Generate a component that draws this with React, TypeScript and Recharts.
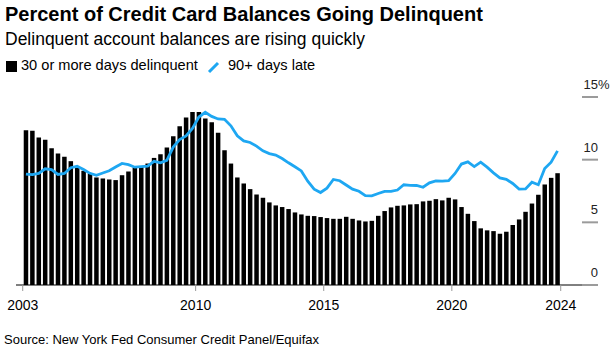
import React from 'react';
import { ComposedChart, Bar, Line, XAxis, YAxis } from 'recharts';

// quarterly series, 2003 Q2 .. 2024 Q1
const firstYear = 2003;
const firstQuarter = 2;

// share of balances going 30+ days delinquent (%)
const thirtyPlus = [
  12.35, 12.3, 11.77, 11.58, 10.92, 10.49, 10.23, 9.88, 9.43, 9.11,
  8.9, 8.58, 8.5, 8.42, 8.37, 8.76, 9.06, 9.38, 9.48, 9.69,
  10.14, 10.44, 10.97, 11.87, 12.67, 13.36, 13.81, 13.81, 13.28, 12.99,
  12.14, 10.76, 9.69, 8.58, 8.1, 7.65, 7.22, 6.96, 6.59, 6.35,
  6.22, 6.06, 5.79, 5.63, 5.52, 5.5, 5.42, 5.34, 5.28, 5.28,
  5.44, 5.28, 5.15, 5.07, 5.12, 5.52, 5.9, 6.19, 6.32, 6.35,
  6.43, 6.45, 6.67, 6.72, 6.85, 6.75, 6.96, 6.83, 6.22, 5.68,
  5.1, 4.52, 4.36, 4.3, 4.09, 4.25, 4.78, 5.23, 5.84, 6.5,
  7.2, 8.02, 8.55, 8.92,
];

// share of balances 90+ days late (%)
const ninetyPlus = [
  8.85, 8.8, 8.9, 9.27, 9.2, 8.82, 8.9, 9.36, 9.47, 9.22,
  8.91, 8.75, 8.94, 9.11, 9.42, 9.7, 9.6, 9.4, 9.44, 9.48,
  9.87, 9.75, 9.94, 11.0, 11.6, 11.9, 12.5, 13.4, 13.78, 13.45,
  13.25, 13.22, 12.7, 11.9, 11.5, 11.37, 11.08, 10.7, 10.48, 10.37,
  10.09, 9.75, 9.43, 9.1, 8.28, 7.65, 7.38, 7.73, 8.42, 8.32,
  7.98, 7.65, 7.48, 7.13, 7.11, 7.3, 7.47, 7.47, 7.58, 8.0,
  7.95, 7.94, 7.8, 8.15, 8.31, 8.29, 8.33, 8.9, 9.65, 9.82,
  9.45, 9.8, 9.4, 8.95, 8.55, 8.43, 8.1, 7.65, 7.67, 8.2,
  8.0, 9.3, 9.8, 10.7,
];

const yearTicks = [2003, 2010, 2015, 2020, 2024];
const valueTicks = [0, 5, 10, 15];

const BLUE = '#1ea7f2';
const FONT = '"Liberation Sans", Arial, Helvetica, sans-serif';

const quarters = thirtyPlus.map((_, i) => {
  const q = firstQuarter - 1 + i;
  return `${firstYear + Math.floor(q / 4)} Q${(q % 4) + 1}`;
});

// x = quarters since the first bar, bar centred in its slot
const data = quarters.map((label, i) => ({
  label,
  x: i + 0.5,
  d30: thirtyPlus[i],
  d90: ninetyPlus[i],
}));

const n = data.length;
const start = firstYear + (firstQuarter - 1) / 4;
// end labels sit on the edges of the data, the others on year starts
const xTickPos = yearTicks.map((y, k) =>
  k === 0 ? 0 : k === yearTicks.length - 1 ? n : (y - start) * 4
);

const ValueTick = ({ x, y, payload }: any) => (
  <g>
    <line x1={x - 16} x2={x} y1={y} y2={y} stroke="#9b9b9b" strokeWidth={2} />
    <text x={x} y={y - 8} textAnchor="end" fontSize={13} fill="#222" fontFamily={FONT}>
      {payload.value}
    </text>
    {payload.value === valueTicks[valueTicks.length - 1] && (
      <text x={x} y={y - 8} textAnchor="start" fontSize={13} fill="#222" fontFamily={FONT}>
        %
      </text>
    )}
  </g>
);

export default function App() {
  return (
    <div
      style={{
        position: 'absolute',
        left: 0,
        top: 0,
        width: 615,
        height: 351,
        background: '#fff',
        fontFamily: FONT,
        color: '#000',
        overflow: 'hidden',
      }}
    >
      <ComposedChart
        width={615}
        height={351}
        data={data}
        margin={{ top: 97, right: 16, bottom: 36, left: 16 }}
        style={{ position: 'absolute', left: 0, top: 0 }}
      >
        <XAxis
          type="number"
          dataKey="x"
          domain={[-1.05, 89.82]}
          ticks={xTickPos}
          interval={0}
          allowDataOverflow
          tickFormatter={(_v: number, idx: number) => String(yearTicks[idx])}
          axisLine={{ stroke: '#000', strokeWidth: 1 }}
          tickLine={{ stroke: '#999' }}
          tickSize={6}
          tickMargin={9}
          tick={{ fontSize: 14, fill: '#000', fontFamily: FONT }}
          height={30}
        />
        <YAxis
          orientation="right"
          domain={[0, 15]}
          ticks={valueTicks}
          width={1}
          axisLine={false}
          tickLine={false}
          tickSize={0}
          tickMargin={0}
          tick={<ValueTick />}
        />
        <Bar dataKey="d30" fill="#000" barSize={4.5} isAnimationActive={false} />
        <Line
          type="linear"
          dataKey="d90"
          stroke={BLUE}
          strokeWidth={2.8}
          dot={false}
          isAnimationActive={false}
        />
      </ComposedChart>

      <div style={{ position: 'absolute', left: 5, top: 3.8, fontSize: 20, lineHeight: 1, fontWeight: 700, whiteSpace: 'nowrap' }}>
        Percent of Credit Card Balances Going Delinquent
      </div>
      <div style={{ position: 'absolute', left: 5, top: 31.2, fontSize: 17.5, lineHeight: 1, whiteSpace: 'nowrap' }}>
        Delinquent account balances are rising quickly
      </div>

      {/* legend */}
      <div style={{ position: 'absolute', left: 6, top: 61, width: 10.5, height: 10.5, background: '#000' }} />
      <div style={{ position: 'absolute', left: 21, top: 58.3, fontSize: 14.6, lineHeight: 1, whiteSpace: 'nowrap' }}>
        30 or more days delinquent
      </div>
      <svg style={{ position: 'absolute', left: 205, top: 59 }} width={18} height={18}>
        <line x1={4} y1={13} x2={13} y2={4} stroke={BLUE} strokeWidth={3} />
      </svg>
      <div style={{ position: 'absolute', left: 228, top: 58.3, fontSize: 14.6, lineHeight: 1, whiteSpace: 'nowrap' }}>
        90+ days late
      </div>

      <div style={{ position: 'absolute', left: 4, top: 333, fontSize: 13, lineHeight: 1, whiteSpace: 'nowrap' }}>
        Source: New York Fed Consumer Credit Panel/Equifax
      </div>
    </div>
  );
}
